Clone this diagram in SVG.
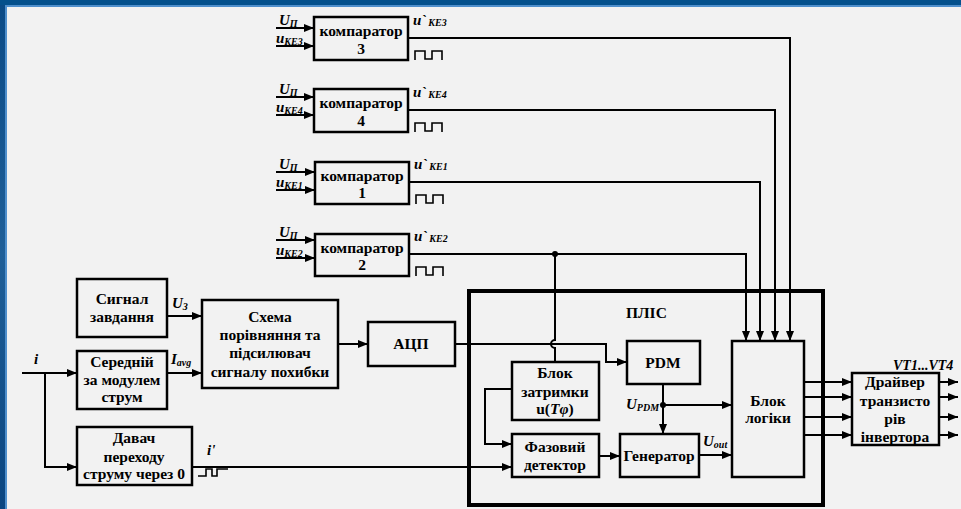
<svg xmlns="http://www.w3.org/2000/svg" width="961" height="509" viewBox="0 0 961 509">
<defs>
<marker id="ah" viewBox="0 0 10 8" refX="10" refY="4" markerWidth="11" markerHeight="8" markerUnits="userSpaceOnUse" orient="auto"><path d="M0,0 L10,4 L0,8 z" fill="#000"/></marker>
<linearGradient id="side" x1="0" y1="0" x2="0" y2="1"><stop offset="0" stop-color="#0a4a86"/><stop offset="0.5" stop-color="#1f5f98"/><stop offset="1" stop-color="#0a4580"/></linearGradient>
</defs>
<style>
.t{font-family:"Liberation Serif","Times New Roman",serif;font-weight:bold;font-size:15.5px;text-anchor:middle;fill:#000}
.it{font-family:"Liberation Serif","Times New Roman",serif;font-weight:bold;font-style:italic;font-size:15px;fill:#000}
.sub{font-size:10px}
.box{fill:none;stroke:#000;stroke-width:2.5}
.ln{fill:none;stroke:#000;stroke-width:2}
.ar{fill:none;stroke:#000;stroke-width:2;marker-end:url(#ah)}
.wave{fill:none;stroke:#000;stroke-width:1.6}
</style>
<g id="background">
<rect x="0" y="0" width="961" height="509" fill="url(#side)"/>
<rect x="0" y="0" width="961" height="5" fill="#04508c"/>
<rect x="5" y="5" width="956" height="2" fill="#4f8fcc"/>
<rect x="5" y="5" width="2" height="504" fill="#4f8fcc"/>
<rect x="7" y="7" width="954" height="502" fill="#f2f2f2"/>
</g>
<g id="connectors">
<path class="ar" d="M276,28 H314"/>
<path class="ar" d="M276,46 H314"/>
<path class="ar" d="M276,97 H314"/>
<path class="ar" d="M276,115 H314"/>
<path class="ar" d="M276,172 H315"/>
<path class="ar" d="M276,190 H315"/>
<path class="ar" d="M276,240 H315"/>
<path class="ar" d="M276,258 H315"/>
<path class="ar" d="M408,38 H790 V341"/>
<path class="ar" d="M408,110 H775 V341"/>
<path class="ar" d="M409,182 H760 V341"/>
<path class="ar" d="M409,254 H746 V341"/>
<path class="ln" d="M555,254 V340 a4,4 0 0 0 0,8 V362"/>
<circle cx="555" cy="254" r="3" fill="#000"/>
<path class="ar" d="M167,316 H202"/>
<path class="ar" d="M167,373 H202"/>
<path class="ar" d="M22,373 H77"/>
<path class="ar" d="M45,373 V467 H77"/>
<path class="ar" d="M338,344 H368"/>
<path class="ar" d="M455,344 H606 V362 H627"/>
<path class="ar" d="M192,467 H512"/>
<path class="ar" d="M512,389 H485 V444 H512"/>
<path class="ar" d="M599,456 H620"/>
<path class="ar" d="M663,384 V434"/>
<path class="ar" d="M663,405 H732"/>
<circle cx="663" cy="405" r="3" fill="#000"/>
<path class="ar" d="M699,455 H732"/>
<path class="ar" d="M804,382 H852"/>
<path class="ar" d="M804,397 H852"/>
<path class="ar" d="M804,417 H852"/>
<path class="ar" d="M804,435 H852"/>
<path class="ar" d="M939,382 H958"/>
<path class="ar" d="M939,397 H958"/>
<path class="ar" d="M939,417 H958"/>
<path class="ar" d="M939,435 H958"/>
</g>
<g id="labels">
<text class="it" x="279" y="25">U<tspan class="sub" dy="2">П</tspan></text>
<text class="it" x="276" y="43">u<tspan class="sub" dy="2">KE3</tspan></text>
<text class="it" x="279" y="94">U<tspan class="sub" dy="2">П</tspan></text>
<text class="it" x="276" y="112">u<tspan class="sub" dy="2">KE4</tspan></text>
<text class="it" x="279" y="169">U<tspan class="sub" dy="2">П</tspan></text>
<text class="it" x="276" y="187">u<tspan class="sub" dy="2">KE1</tspan></text>
<text class="it" x="279" y="237">U<tspan class="sub" dy="2">П</tspan></text>
<text class="it" x="276" y="255">u<tspan class="sub" dy="2">KE2</tspan></text>
<text class="it" x="413" y="25">u`<tspan class="sub" dx="2" dy="1">KE3</tspan></text>
<text class="it" x="413" y="97">u`<tspan class="sub" dx="2" dy="1">KE4</tspan></text>
<text class="it" x="414" y="169">u`<tspan class="sub" dx="2" dy="1">KE1</tspan></text>
<text class="it" x="414" y="241">u`<tspan class="sub" dx="2" dy="1">KE2</tspan></text>
<path class="wave" d="M415,60 V51 H425 V59 H432 V51 H442 V60"/>
<path class="wave" d="M415,132 V123 H425 V131 H432 V123 H442 V132"/>
<path class="wave" d="M416,204 V195 H426 V203 H433 V195 H443 V204"/>
<path class="wave" d="M416,276 V267 H426 V275 H433 V267 H443 V276"/>
<text class="it" x="172" y="308">U<tspan class="sub" dy="2">З</tspan></text>
<text class="it" x="171" y="364">I<tspan class="sub" dy="2">avg</tspan></text>
<text class="it" x="34" y="364">i</text>
<text class="it" x="207" y="455">i'</text>
<path class="wave" d="M198,476 H206 V469 H212 V476 H217 V469 H228"/>
<text class="it" x="626" y="409">U<tspan class="sub" dy="2">PDM</tspan></text>
<text class="it" x="703" y="446">U<tspan class="sub" dy="2">out</tspan></text>
<text class="it" x="893" y="370" style="font-size:14px">VT1...VT4</text>
</g>
<g id="comp3"><rect class="box" x="314" y="17" width="94" height="43"/><text class="t" x="361" y="36">компаратор</text><text class="t" x="361" y="54">3</text></g>
<g id="comp4"><rect class="box" x="314" y="89" width="94" height="43"/><text class="t" x="361" y="108">компаратор</text><text class="t" x="361" y="126">4</text></g>
<g id="comp1"><rect class="box" x="315" y="162" width="94" height="42"/><text class="t" x="362" y="181">компаратор</text><text class="t" x="362" y="198">1</text></g>
<g id="comp2"><rect class="box" x="315" y="234" width="94" height="42"/><text class="t" x="362" y="253">компаратор</text><text class="t" x="362" y="270">2</text></g>
<g id="signal"><rect class="box" x="77" y="279" width="90" height="58"/><text class="t" x="122" y="304">Сигнал</text><text class="t" x="122" y="322">завдання</text></g>
<g id="avg"><rect class="box" x="77" y="351" width="90" height="58"/><text class="t" x="122" y="367">Середній</text><text class="t" x="122" y="385">за модулем</text><text class="t" x="122" y="402">струм</text></g>
<g id="zero"><rect class="box" x="77" y="427" width="115" height="58"/><text class="t" x="134" y="443">Давач</text><text class="t" x="134" y="462">переходу</text><text class="t" x="134" y="479">струму через 0</text></g>
<g id="compare"><rect class="box" x="202" y="300" width="136" height="88"/><text class="t" x="270" y="322">Схема</text><text class="t" x="270" y="340">порівняння та</text><text class="t" x="270" y="358">підсилювач</text><text class="t" x="270" y="377">сигналу похибки</text></g>
<g id="adc"><rect class="box" x="368" y="322" width="87" height="44"/><text class="t" x="411" y="349">АЦП</text></g>
<g id="plis"><rect x="469" y="291" width="354" height="214" fill="none" stroke="#000" stroke-width="4"/><text class="t" x="626" y="318" style="text-anchor:start">ПЛІС</text></g>
<g id="pdm"><rect class="box" x="627" y="341" width="73" height="43"/><text class="t" x="663" y="368">PDM</text></g>
<g id="delay"><rect class="box" x="512" y="362" width="87" height="58"/><text class="t" x="555" y="378">Блок</text><text class="t" x="555" y="397">затримки</text><text class="t" x="555" y="414">u(<tspan font-style="italic">Tφ</tspan>)</text></g>
<g id="phase"><rect class="box" x="512" y="434" width="87" height="43"/><text class="t" x="555" y="452">Фазовий</text><text class="t" x="555" y="470">детектор</text></g>
<g id="gen"><rect class="box" x="620" y="434" width="79" height="43"/><text class="t" x="659" y="461">Генератор</text></g>
<g id="logic"><rect class="box" x="732" y="341" width="72" height="136"/><text class="t" x="768" y="406">Блок</text><text class="t" x="768" y="423">логіки</text></g>
<g id="driver"><rect class="box" x="852" y="373" width="87" height="72"/><text class="t" x="895" y="387">Драйвер</text><text class="t" x="895" y="406">транзисто</text><text class="t" x="895" y="424">рів</text><text class="t" x="895" y="442">інвертора</text></g>
</svg>
